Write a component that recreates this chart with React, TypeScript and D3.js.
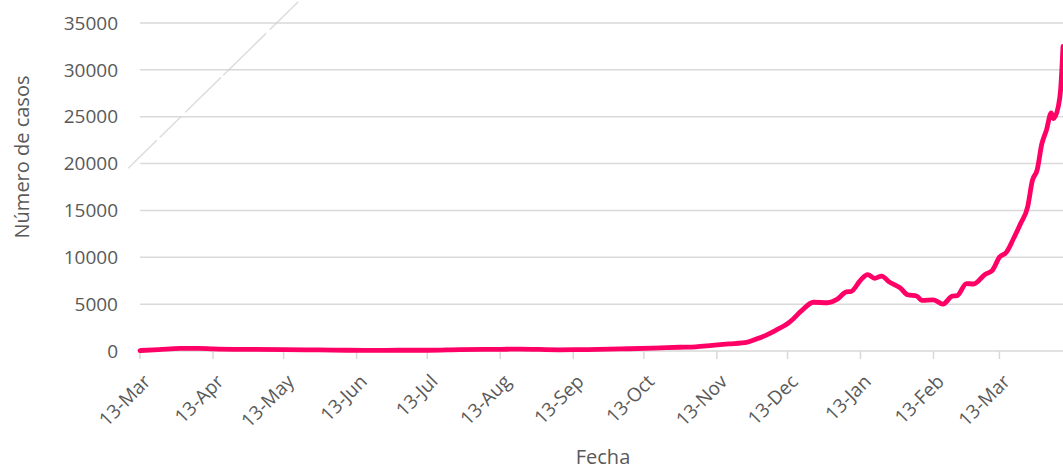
import * as d3 from "d3";

// daily new cases
const dates = [
  "2020-03-13", "2020-03-21", "2020-03-30", "2020-04-07", "2020-04-13", "2020-04-27",
  "2020-05-13", "2020-05-28", "2020-06-09", "2020-06-19", "2020-07-01", "2020-07-13",
  "2020-07-27", "2020-08-13", "2020-08-21", "2020-09-07", "2020-09-19", "2020-10-03",
  "2020-10-17", "2020-10-28", "2020-11-04", "2020-11-11", "2020-11-18", "2020-11-26",
  "2020-11-30", "2020-12-04", "2020-12-08", "2020-12-14", "2020-12-19", "2020-12-24",
  "2020-12-30", "2021-01-03", "2021-01-07", "2021-01-09", "2021-01-13", "2021-01-16",
  "2021-01-19", "2021-01-22", "2021-01-25", "2021-01-30", "2021-02-02", "2021-02-06",
  "2021-02-08", "2021-02-13", "2021-02-17", "2021-02-21", "2021-02-23", "2021-02-27",
  "2021-03-02", "2021-03-07", "2021-03-10", "2021-03-13", "2021-03-16", "2021-03-19",
  "2021-03-22", "2021-03-25", "2021-03-27", "2021-03-29", "2021-03-31", "2021-04-02",
  "2021-04-04", "2021-04-05", "2021-04-07", "2021-04-08", "2021-04-09",
];
const cases = [
  50, 150, 280, 290, 230, 170,
  150, 110, 80, 60, 80, 80,
  150, 180, 200, 130, 150, 220,
  300, 400, 450, 600, 750, 950,
  1300, 1700, 2200, 3100, 4300, 5200,
  5150, 5500, 6300, 6350, 7550, 8150,
  7750, 8000, 7400, 6700, 6000, 5850,
  5400, 5450, 5000, 5850, 5900, 7200,
  7150, 8200, 8600, 10000, 10550, 12000,
  13600, 15400, 18200, 19300, 22100, 23600,
  25400, 24800, 26100, 27900, 32500,
];

const yTicks = [0, 5000, 10000, 15000, 20000, 25000, 30000, 35000];
const xTickLabels = [
  "13-Mar", "13-Apr", "13-May", "13-Jun", "13-Jul", "13-Aug", "13-Sep",
  "13-Oct", "13-Nov", "13-Dec", "13-Jan", "13-Feb", "13-Mar",
];
const xTickDates = [
  "2020-03-13", "2020-04-13", "2020-05-13", "2020-06-13", "2020-07-13", "2020-08-13",
  "2020-09-13", "2020-10-13", "2020-11-13", "2020-12-13", "2021-01-13", "2021-02-13",
  "2021-03-13",
];

// faint stray stroke in the top-left of the original image
const strayDates = ["2020-03-08", "2020-05-20"];
const strayValues = [19500, 37450];

const parse = d3.utcParse("%Y-%m-%d");

export default function App() {
  const width = 1063;
  const height = 468;
  const left = 140;
  const right = 1063;
  const top = 23;
  const bottom = 351;

  const x = d3
    .scaleUtc()
    .domain([parse("2020-03-13")!, parse("2021-04-09")!])
    .range([left, right]);
  const y = d3.scaleLinear().domain([0, 35000]).range([bottom, top]);

  const pts = dates.map((d, i) => [x(parse(d)!), y(cases[i])] as [number, number]);
  const line = d3.line().curve(d3.curveMonotoneX)(pts) || "";

  const stray = d3.line()(
    strayDates.map((d, i) => [x(parse(d)!), y(strayValues[i])] as [number, number])
  ) || "";

  const font = "'Open Sans', 'DejaVu Sans', sans-serif";
  const textColor = "#595959";
  const gridColor = "#d9d9d9";

  return (
    <svg
      width={width}
      height={height}
      style={{ position: "absolute", left: 0, top: 0, background: "#fff" }}
      fontFamily={font}
    >
      {yTicks.map((t) => (
        <g key={t}>
          <line x1={left} x2={right} y1={y(t)} y2={y(t)} stroke={gridColor} strokeWidth={1.5} />
          <text
            x={118}
            y={y(t)}
            dy="0.35em"
            textAnchor="end"
            fontSize={19}
            fill={textColor}
          >
            {t}
          </text>
        </g>
      ))}

      {xTickDates.map((d, i) => {
        const tx = x(parse(d)!);
        return (
          <g key={d}>
            <line x1={tx} x2={tx} y1={bottom} y2={bottom + 8} stroke={gridColor} strokeWidth={1.5} />
            <text
              transform={`translate(${tx + 7},${bottom + 27}) rotate(-45)`}
              dy="0.35em"
              textAnchor="end"
              fontSize={19}
              fill={textColor}
            >
              {xTickLabels[i]}
            </text>
          </g>
        );
      })}

      <path
        d={stray}
        fill="none"
        stroke="#d0d0d0"
        strokeWidth={1.5}
        strokeDasharray="40 4 30 6 50 3 60 5"
        opacity={0.75}
      />

      <path
        d={line}
        fill="none"
        stroke="#ff0066"
        strokeWidth={4.8}
        strokeLinejoin="round"
        strokeLinecap="round"
      />

      <text
        transform={`translate(22,157) rotate(-90)`}
        dy="0.35em"
        textAnchor="middle"
        fontSize={20}
        fill={textColor}
      >
        Número de casos
      </text>
      <text x={603} y={464} textAnchor="middle" fontSize={20} fill={textColor}>
        Fecha
      </text>
    </svg>
  );
}
